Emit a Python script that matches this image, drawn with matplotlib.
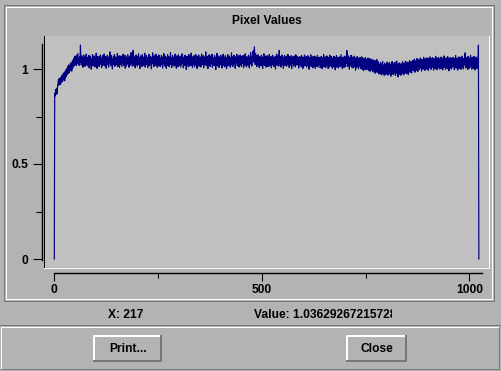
import matplotlib
matplotlib.use("Agg")
import matplotlib.pyplot as plt
from matplotlib.transforms import Bbox
import numpy as np

plt.rcParams['font.family'] = ['Liberation Sans', 'DejaVu Sans']
plt.rcParams['font.weight'] = 'bold'

# --- chart data -------------------------------------------------------
title = "Pixel Values"
x_major = [0, 500, 1000]
x_major_labels = ["0", "500", "1000"]
x_minor = [250, 750]
y_major = [0, 0.5, 1]
y_major_labels = ["0", "0.5", "1"]
y_minor = [0.25, 0.75]
cursor_x = 217
cursor_value = "1.03629267215728"
buttons = ["Print...", "Close"]

# one value per pixel index (0..1023)
pixel_values = [
    0.000, 0.872, 0.858, 0.893, 0.866, 0.881, 0.899, 0.870, 0.911, 0.928, 0.942, 0.915, 0.951, 0.924, 0.946, 0.919,
    0.957, 0.930, 0.949, 0.968, 0.934, 0.961, 0.979, 0.943, 0.972, 0.938, 0.986, 0.953, 0.995, 0.962, 1.001, 0.970,
    1.014, 0.976, 1.003, 1.022, 0.981, 1.016, 0.990, 1.031, 0.998, 1.025, 0.989, 1.038, 1.004, 1.046, 1.012, 1.057,
    1.016, 1.049, 1.068, 1.025, 1.057, 1.018, 1.073, 1.031, 1.060, 1.082, 1.024, 1.053, 1.019, 1.066, 1.035, 1.126,
    1.052, 1.021, 1.069, 1.030, 1.061, 1.009, 1.055, 1.074, 1.026, 1.058, 1.014, 1.066, 1.035, 1.079, 1.022, 1.054,
    1.017, 1.063, 1.031, 1.072, 1.006, 1.050, 1.068, 1.023, 1.057, 0.999, 1.053, 1.033, 1.076, 1.015, 1.062, 1.027,
    1.069, 1.039, 1.011, 1.058, 1.024, 1.083, 1.036, 1.003, 1.052, 1.067, 1.020, 1.056, 1.013, 1.063, 1.029, 1.074,
    1.025, 1.057, 1.007, 1.049, 1.071, 1.019, 1.054, 1.032, 1.079, 1.016, 1.061, 1.026, 1.066, 1.004, 1.052, 1.034,
    1.073, 1.022, 1.056, 1.010, 1.064, 1.037, 1.090, 1.028, 1.058, 1.017, 1.070, 1.040, 1.000, 1.055, 1.024, 1.067,
    1.031, 1.076, 1.014, 1.053, 1.063, 1.021, 1.059, 1.036, 1.082, 1.012, 1.056, 1.027, 1.070, 1.008, 1.048, 1.062,
    1.023, 1.069, 1.037, 1.012, 1.066, 1.033, 1.078, 1.019, 1.057, 1.030, 1.073, 1.004, 1.052, 1.064, 1.016, 1.055,
    1.032, 1.075, 1.024, 1.060, 1.009, 1.056, 1.068, 1.020, 1.051, 1.086, 1.028, 1.059, 1.015, 1.070, 1.098, 1.037,
    1.018, 1.064, 1.045, 1.006, 1.057, 1.074, 1.026, 1.054, 1.015, 1.067, 1.035, 1.080, 1.022, 1.058, 1.002, 1.050,
    1.069, 1.027, 1.057, 1.013, 1.075, 1.034, 1.052, 1.019, 1.064, 1.040, 1.083, 1.010, 1.055, 1.031, 1.071, 1.024,
    1.054, 1.007, 1.062, 1.036, 1.077, 1.016, 1.057, 1.067, 1.023, 1.050, 1.001, 1.063, 1.033, 1.085, 1.026, 1.056,
    1.012, 1.070, 1.038, 1.058, 1.020, 1.078, 1.030, 1.053, 1.009, 1.067, 1.042, 1.017, 1.074, 1.032, 1.060, 1.013,
    1.052, 1.020, 1.072, 1.029, 1.058, 1.005, 1.065, 1.038, 1.081, 1.024, 1.055, 1.014, 1.068, 1.041, 1.003, 1.059,
    1.028, 1.075, 1.018, 1.053, 1.066, 1.011, 1.056, 1.034, 1.086, 1.022, 1.061, 1.008, 1.049, 1.071, 1.027, 1.055,
    1.015, 1.064, 1.039, 1.079, 1.021, 1.058, 1.004, 1.069, 1.032, 1.054, 1.012, 1.075, 1.029, 1.060, 1.019, 1.066,
    1.040, 1.009, 1.070, 1.026, 1.080, 1.035, 1.057, 1.006, 1.063, 1.043, 1.018, 1.073, 1.031, 1.062, 0.998, 1.055,
    1.067, 1.023, 1.059, 1.011, 1.077, 1.038, 1.052, 1.016, 1.070, 1.030, 1.084, 1.020, 1.056, 1.007, 1.065, 1.039,
    1.024, 1.071, 1.012, 1.060, 1.033, 1.076, 1.019, 1.055, 1.003, 1.067, 1.041, 1.026, 1.074, 1.014, 1.058, 1.035,
    1.063, 1.010, 1.052, 1.079, 1.022, 1.057, 1.030, 1.070, 1.006, 1.054, 1.025, 1.065, 1.038, 1.090, 1.017, 1.056,
    1.029, 1.066, 1.002, 1.058, 1.034, 1.075, 1.020, 1.053, 1.013, 1.069, 1.040, 1.027, 1.078, 1.009, 1.060, 1.032,
    1.057, 1.018, 1.072, 1.028, 1.054, 0.997, 1.064, 1.037, 1.082, 1.016, 1.056, 1.031, 1.068, 1.008, 1.050, 1.061,
    1.021, 1.073, 1.035, 1.055, 1.005, 1.065, 1.029, 1.078, 1.019, 1.059, 1.039, 1.012, 1.070, 1.028, 1.053, 1.001,
    1.062, 1.033, 1.076, 1.016, 1.058, 1.024, 1.068, 1.040, 1.009, 1.060, 1.030, 1.085, 1.020, 1.055, 1.013, 1.066,
    1.037, 1.072, 1.026, 1.056, 1.004, 1.064, 1.032, 1.053, 1.077, 1.017, 1.058, 1.027, 1.069, 1.010, 1.051, 1.036,
    1.074, 1.021, 1.057, 1.014, 1.066, 1.039, 1.029, 1.072, 1.006, 1.055, 1.062, 1.019, 1.080, 1.034, 1.053, 1.011,
    1.065, 1.031, 1.058, 1.018, 1.073, 1.040, 1.005, 1.063, 1.035, 1.086, 1.025, 1.056, 1.015, 1.070, 1.041, 1.095,
    1.037, 1.077, 1.117, 1.066, 1.024, 1.082, 1.038, 1.071, 1.012, 1.061, 1.030, 1.075, 1.020, 1.057, 1.007, 1.065,
    1.034, 1.055, 1.016, 1.073, 1.026, 1.059, 1.002, 1.064, 1.037, 1.080, 1.019, 1.054, 1.031, 1.068, 1.010, 1.057,
    1.025, 1.070, 1.038, 1.012, 1.061, 1.029, 1.076, 1.017, 1.055, 1.034, 1.066, 1.006, 1.052, 1.021, 1.073, 1.031,
    1.058, 1.013, 1.064, 1.035, 1.053, 1.000, 1.068, 1.027, 1.078, 1.019, 1.056, 1.038, 1.069, 1.015, 1.098, 1.040,
    1.028, 1.065, 1.010, 1.057, 1.022, 1.074, 1.034, 1.054, 1.004, 1.063, 1.031, 1.071, 1.018, 1.052, 1.026, 1.067,
    1.015, 1.056, 1.035, 1.077, 1.023, 1.060, 1.008, 1.066, 1.030, 1.050, 1.019, 1.070, 1.002, 1.055, 1.032, 1.064,
    1.039, 1.014, 1.069, 1.027, 1.057, 1.011, 1.075, 1.034, 1.053, 1.020, 1.065, 1.030, 1.060, 1.005, 1.056, 1.028,
    1.066, 1.021, 1.051, 1.012, 1.071, 1.032, 1.058, 1.003, 1.062, 1.025, 1.047, 1.074, 1.016, 1.055, 1.023, 1.066,
    1.010, 1.058, 1.030, 1.070, 1.018, 1.053, 0.999, 1.061, 1.033, 1.021, 1.075, 1.013, 1.056, 1.027, 1.064, 1.006,
    1.043, 1.026, 1.068, 1.015, 1.055, 1.003, 1.064, 1.031, 1.051, 1.012, 1.072, 1.022, 1.059, 1.036, 1.008, 1.062,
    1.025, 1.057, 1.006, 1.066, 1.030, 1.050, 1.001, 1.060, 1.020, 1.077, 1.011, 1.054, 1.028, 1.064, 1.007, 1.046,
    1.018, 1.069, 1.027, 1.056, 1.002, 1.061, 1.033, 1.010, 1.073, 1.022, 1.052, 1.014, 1.065, 1.030, 1.004, 1.058,
    1.036, 1.011, 1.067, 1.021, 1.054, 0.996, 1.060, 1.028, 1.071, 1.009, 1.049, 1.024, 1.062, 1.005, 1.055, 1.019,
    1.064, 1.013, 1.046, 1.076, 1.017, 1.057, 1.002, 1.061, 1.026, 1.041, 1.008, 1.068, 1.022, 1.052, 1.012, 1.066,
    1.029, 1.097, 1.047, 1.014, 1.069, 1.023, 1.056, 0.999, 1.061, 1.018, 1.039, 1.072, 1.010, 1.050, 1.024, 1.063,
    1.005, 1.056, 1.020, 1.068, 1.012, 1.045, 0.994, 1.059, 1.025, 1.009, 1.066, 1.017, 1.050, 1.001, 1.058, 1.028,
    1.015, 1.061, 1.003, 1.044, 1.011, 1.064, 0.997, 1.052, 1.020, 0.991, 1.057, 1.008, 1.043, 0.996, 1.060, 1.014,
    1.046, 0.998, 1.050, 1.007, 1.058, 0.992, 1.039, 1.003, 1.055, 0.988, 1.034, 1.047, 0.996, 1.052, 1.006, 0.985,
    1.041, 0.995, 1.047, 0.987, 1.030, 0.978, 1.043, 1.001, 0.990, 1.050, 0.982, 1.027, 0.996, 1.038, 0.974, 1.025,
    1.018, 0.977, 1.035, 0.989, 0.969, 1.027, 0.983, 1.040, 0.973, 1.021, 0.994, 0.965, 1.031, 0.980, 1.019, 0.971,
    1.025, 0.978, 1.037, 0.986, 0.968, 1.029, 0.991, 0.974, 1.034, 0.982, 1.017, 0.962, 1.026, 0.984, 1.039, 0.975,
    1.014, 0.970, 1.031, 0.990, 0.979, 1.035, 0.966, 1.022, 0.985, 1.042, 0.976, 1.016, 0.958, 1.028, 0.993, 0.972,
    1.032, 0.981, 1.019, 0.967, 1.027, 0.995, 0.975, 1.038, 0.983, 1.024, 0.969, 1.031, 0.997, 0.977, 1.041, 0.988,
    1.021, 0.976, 1.037, 0.994, 1.029, 0.971, 1.034, 0.998, 1.044, 0.982, 1.025, 0.990, 1.039, 0.979, 1.031, 0.999,
    1.047, 0.992, 1.034, 1.003, 1.052, 0.983, 1.039, 1.006, 1.043, 0.994, 1.055, 1.011, 0.987, 1.041, 1.013, 1.049,
    0.997, 1.040, 1.058, 1.005, 1.046, 0.989, 1.051, 1.014, 1.036, 0.999, 1.062, 1.009, 1.048, 0.993, 1.054, 1.017,
    1.043, 1.000, 1.059, 1.015, 1.050, 0.993, 1.055, 1.021, 1.008, 1.064, 1.004, 1.046, 0.998, 1.053, 1.023, 1.060,
    1.009, 1.048, 0.994, 1.056, 1.019, 1.043, 1.002, 1.067, 1.016, 1.051, 0.996, 1.058, 1.025, 1.006, 1.061, 1.020,
    1.052, 0.999, 1.047, 1.013, 1.063, 1.003, 1.041, 1.057, 0.995, 1.049, 1.017, 1.069, 1.007, 1.052, 1.022, 0.997,
    1.059, 1.021, 1.045, 1.002, 1.065, 1.012, 1.054, 0.991, 1.050, 1.018, 1.060, 1.005, 1.044, 1.000, 1.057, 1.024,
    1.010, 1.062, 1.019, 1.048, 0.996, 1.055, 1.026, 1.071, 1.004, 1.046, 1.014, 1.058, 0.994, 1.051, 1.022, 1.064,
    1.003, 1.049, 1.018, 1.061, 0.998, 1.053, 1.027, 1.068, 1.009, 1.056, 1.000, 1.050, 1.021, 1.063, 1.085, 1.029,
    1.006, 1.059, 1.020, 1.051, 0.997, 1.066, 1.016, 1.047, 1.003, 1.057, 1.025, 1.072, 1.011, 1.049, 0.999, 1.061,
    1.017, 1.053, 1.004, 1.067, 1.023, 1.048, 0.995, 1.058, 1.014, 1.063, 1.026, 1.001, 1.055, 1.019, 1.126, 0.000,
]

# --- window geometry (pixels, top-left origin) -----------------------
W, H = 502, 371
BG = '#b3b3b3'
PLOT_BG = '#c0c0c0'
DARK = '#777777'
WHITE = '#ffffff'
TRACE = '#000080'
FS = 8.64  # 12 px

fig = plt.figure(figsize=(W / 100, H / 100), dpi=100, facecolor=BG)


def px_axes(x0, y0, x1, y1):
    return fig.add_axes([x0 / W, 1 - y1 / H, (x1 - x0) / W, (y1 - y0) / H])


deco = fig.add_axes([0, 0, 1, 1])
deco.set_xlim(0, W)
deco.set_ylim(H, 0)
deco.axis('off')


def bevel(x0, y0, x1, y1, tl, br, lw=0.72):
    deco.plot([x0, x0, x1], [y1, y0, y0], color=tl, lw=lw, solid_capstyle='projecting')
    deco.plot([x0, x1, x1], [y1, y1, y0], color=br, lw=lw, solid_capstyle='projecting')


# etched frame round the chart
bevel(4.5, 4.5, 494.5, 300.5, DARK, DARK)
bevel(6.5, 6.5, 492.5, 298.5, WHITE, WHITE)
# plot area sunken border
bevel(44.5, 35.5, 489.5, 267.5, 'black', WHITE)
# button panel
deco.plot([0, W], [324.5, 324.5], color=DARK, lw=0.72)
bevel(1.5, 326.5, 499.5, 368.5, WHITE, DARK)

deco.text(267, 24, title, ha='center', va='baseline', fontsize=FS)
deco.text(126, 318.5, "X: %d" % cursor_x, ha='center', va='baseline', fontsize=FS)
val = deco.text(254.5, 318.5, "Value: " + cursor_value, ha='left', va='baseline',
                fontsize=FS, clip_on=True)
val.set_clip_box(Bbox.from_extents(0, 0, 392, H))

for label, (bx0, bx1) in zip(buttons, [(94.5, 161.5), (347.5, 406.5)]):
    bevel(bx0, 335.5, bx1, 360.5, WHITE, DARK, lw=1.44)
    deco.text((bx0 + bx1) / 2, 351.5, label, ha='center', va='baseline', fontsize=FS)

# --- data area: x px = 54.3 + 0.415*i, y px = 259 - 190*v -------------
x0_px, x_scale = 54.3, 0.415
y0_px, y_scale = 259.0, 190.0
xlim = ((45 - x0_px) / x_scale, (489 - x0_px) / x_scale)
ylim = ((y0_px - 267) / y_scale, (y0_px - 36) / y_scale)

ax = px_axes(45, 36, 489, 267)
ax.set_facecolor(PLOT_BG)
ax.plot(np.arange(len(pixel_values)), pixel_values, color=TRACE, lw=0.85)
ax.set_xlim(*xlim)
ax.set_ylim(*ylim)
ax.set_xticks([])
ax.set_yticks([])
for s in ax.spines.values():
    s.set_visible(False)

# y axis, standing left of the plot area
yax = px_axes(42.5, 36, 43.5, 267)
yax.patch.set_visible(False)
yax.set_ylim(*ylim)
yax.set_xticks([])
for name in ['top', 'right', 'bottom']:
    yax.spines[name].set_visible(False)
yax.spines['left'].set_linewidth(1.0)
yax.spines['left'].set_bounds(-0.005, 1.132)
yax.set_yticks(y_major)
yax.set_yticklabels(y_major_labels, fontweight='bold')
yax.set_yticks(y_minor, minor=True)
yax.tick_params(axis='y', which='major', length=6.5, width=0.8, pad=4, labelsize=FS)
yax.tick_params(axis='y', which='minor', length=4.3, width=0.8)

# x axis, below the plot area
xax = px_axes(45, 271.5, 489, 272.5)
xax.patch.set_visible(False)
xax.set_xlim(*xlim)
xax.set_yticks([])
for name in ['top', 'right', 'left']:
    xax.spines[name].set_visible(False)
xax.spines['bottom'].set_linewidth(1.0)
xax.spines['bottom'].set_bounds(0, 1030)
xax.set_xticks(x_major)
xax.set_xticklabels(x_major_labels, fontweight='bold')
xax.set_xticks(x_minor, minor=True)
xax.tick_params(axis='x', which='major', length=5.8, width=0.8, pad=2.6, labelsize=FS)
xax.tick_params(axis='x', which='minor', length=3.6, width=0.8)

fig.savefig('out.png', dpi=100, facecolor=BG)
